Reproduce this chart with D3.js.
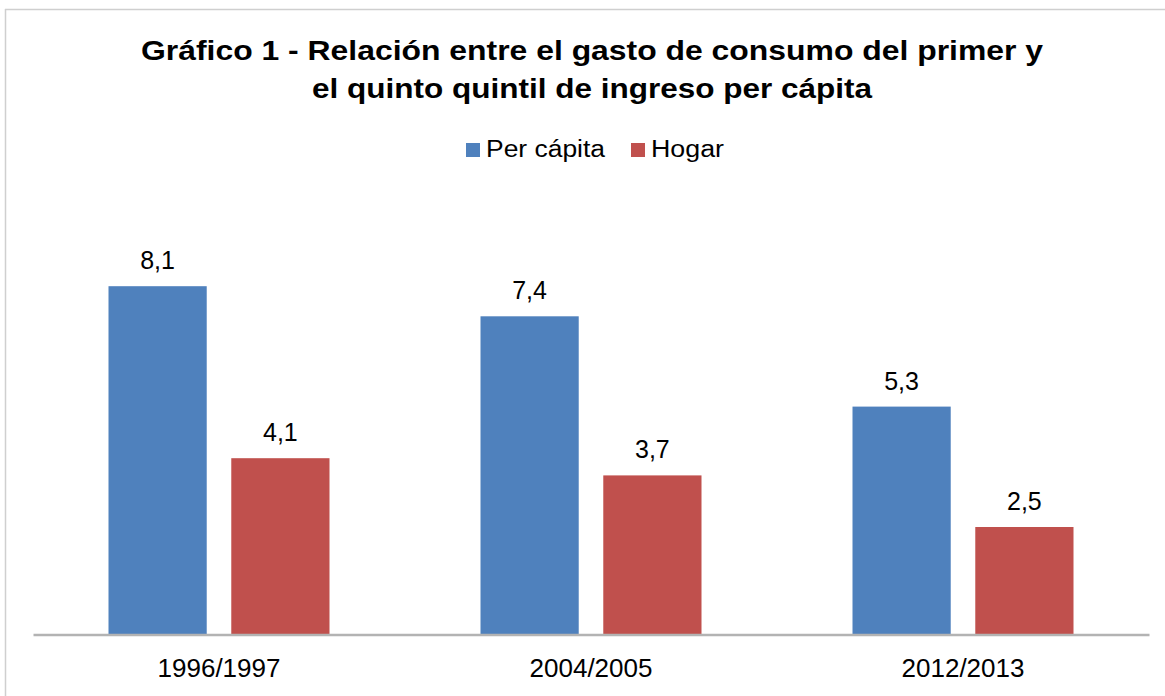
<!DOCTYPE html>
<html><head><meta http-equiv="Content-Type" content="text/html; charset=utf-8">
    <script src="https://d3js.org/d3.v7.min.js"></script>
    <style>
        body { margin: 0; background: #fff; }
        text { font-family: "Liberation Sans", Arial, Helvetica, sans-serif; fill: #000; }
    </style>
    </head>

    <body>

        <div class="chart"></div>

        <script type="text/javascript">

            var width = 1165;
            var height = 696;

            // ------------------ DATA -----------------------------------
            var periods = ["1996/1997", "2004/2005", "2012/2013"];
            var seriesNames = ["Per cápita", "Hogar"];
            var perCapita = [8.1, 7.4, 5.3];
            var hogar = [4.1, 3.7, 2.5];
            var colors = ["#4F81BD", "#C0504D"];
            var titleLines = ["Gráfico 1 - Relación entre el gasto de consumo del primer y",
                              "el quinto quintil de ingreso per cápita"];

            var rows = periods.map(function(p, i) {
                return { period: p, values: [perCapita[i], hogar[i]] };
            });

            var svg = d3.select("div.chart")
            .append("svg")
            .attr("width", width)
            .attr("height", height)

            // frame edges
            svg.append("line")
                .attr("x1", 5).attr("x2", width).attr("y1", 9.5).attr("y2", 9.5)
                .style("stroke", "#cfcfcf").style("stroke-width", 1.5);
            svg.append("line")
                .attr("x1", 5.5).attr("x2", 5.5).attr("y1", 9).attr("y2", height)
                .style("stroke", "#cfcfcf").style("stroke-width", 1.5);

            var left = 33, right = 1149, base = 634.5;

            var x0 = d3.scaleBand()
            .domain(periods)
            .range([left, right])
            .paddingInner(0)
            .paddingOuter(0);

            var x1 = d3.scaleBand()
            .domain(seriesNames)
            .range([x0.bandwidth() / 2 - 110.5, x0.bandwidth() / 2 + 110.5])
            .paddingInner(0.2)
            .paddingOuter(0);

            var y = d3.scaleLinear()
            .domain([0, 9])
            .range([base, base - 9 * 43]);

            //------------------ TITLE -----------------------------------
            var titleWidths = [902, 560];
            svg.selectAll("text.title")
                .data(titleLines)
                .enter()
                .append("text")
                .attr("class", "title")
                .attr("x", 592)
                .attr("y", function(d, i) { return 60 + i * 38; })
                .attr("text-anchor", "middle")
                .attr("textLength", function(d, i) { return titleWidths[i]; })
                .attr("lengthAdjust", "spacingAndGlyphs")
                .style("font-size", "28px")
                .style("font-weight", "bold")
                .text(function(d) { return d; });

            //------------------ LEGEND -----------------------------------
            var legendX = [466, 631];
            var legendW = [119, 73];
            var legend = svg.selectAll("g.legend")
                .data(seriesNames)
                .enter()
                .append("g")
                .attr("class", "legend")
                .attr("transform", function(d, i) { return "translate(" + legendX[i] + ",0)"; });

            legend.append("rect")
                .attr("x", 0).attr("y", 143)
                .attr("width", 14).attr("height", 14)
                .style("fill", function(d, i) { return colors[i]; });

            legend.append("text")
                .attr("x", 20).attr("y", 157)
                .attr("textLength", function(d, i) { return legendW[i]; })
                .attr("lengthAdjust", "spacingAndGlyphs")
                .style("font-size", "23px")
                .text(function(d) { return d; });

            //------------------ BARS -----------------------------------
            var groups = svg.selectAll("g.group")
                .data(rows)
                .enter()
                .append("g")
                .attr("class", "group")
                .attr("transform", function(d) { return "translate(" + x0(d.period) + ",0)"; });

            groups.selectAll("rect")
                .data(function(d) { return d.values.map(function(v, i) { return { name: seriesNames[i], value: v, i: i }; }); })
                .enter()
                .append("rect")
                .attr("x", function(d) { return x1(d.name); })
                .attr("width", x1.bandwidth())
                .attr("y", function(d) { return y(d.value); })
                .attr("height", function(d) { return base - y(d.value); })
                .style("fill", function(d) { return colors[d.i]; });

            groups.selectAll("text.value")
                .data(function(d) { return d.values.map(function(v, i) { return { name: seriesNames[i], value: v }; }); })
                .enter()
                .append("text")
                .attr("class", "value")
                .attr("x", function(d) { return x1(d.name) + x1.bandwidth() / 2; })
                .attr("y", function(d) { return y(d.value) - 17; })
                .attr("text-anchor", "middle")
                .style("font-size", "25px")
                .text(function(d) { return d.value.toFixed(1).replace(".", ","); });

            //------------------ AXIS -----------------------------------
            var xAxis = svg.append("g")
                .attr("transform", "translate(0," + base + ")")
                .call(d3.axisBottom(x0).tickSize(0).tickPadding(24));

            xAxis.select(".domain")
                .style("stroke", "#b3b3b3")
                .style("stroke-width", 2.5);

            xAxis.selectAll("text")
                .style("font-size", "26px")
                .style("font-family", "'Liberation Sans', Arial, sans-serif")
                .style("fill", "#000");

        </script>

    </body></html>
